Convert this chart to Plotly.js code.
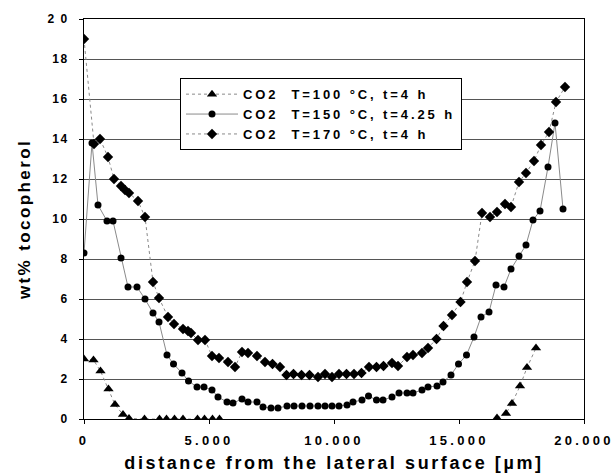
<!DOCTYPE html>
<html>
<head>
<meta charset="utf-8">
<script src="https://cdn.plot.ly/plotly-3.0.1.min.js"></script>
<style>
html,body{margin:0;padding:0;background:#fff;}
#chart{width:616px;height:473px;}
.xtitle{letter-spacing:2.6px;}
.ytitle{letter-spacing:2.4px;}
.legendtext{letter-spacing:2.9px;}
.xtick text{letter-spacing:3.3px;}
.ytick text{letter-spacing:1.5px;}
</style>
</head>
<body>
<div id="chart"></div>
<script>
// 100 °C, 4 h (triangles)
const x100 = [0,380,660,980,1240,1560,1800,2420,3020,3300,3620,3960,4540,4820,5140,5420,null,16520,16880,17120,17440,17720,18080];
const y100 = [3.0,2.95,2.4,1.5,0.72,0.22,0.03,0,0,0,0,0,0,0,0,0,null,0.05,0.28,0.78,1.65,2.57,3.55];

// 150 °C, 4.25 h (circles)
const x150 = [0,320,560,920,1160,1480,1760,2120,2440,2760,3000,3320,3580,3920,4180,4520,4800,5120,5360,5720,5960,6320,6560,6920,7160,7480,7760,8120,8400,8720,9040,9360,9640,9920,10200,10520,10760,11120,11380,11700,11960,12320,12600,12920,13160,13520,13760,14120,14360,14680,14980,15300,15600,15880,16200,16480,16800,17080,17400,17680,17960,18240,18560,18840,19160];
const y150 = [8.3,13.8,10.7,9.9,9.9,8.05,6.6,6.6,6.0,5.3,4.85,3.2,2.75,2.3,1.9,1.6,1.6,1.45,1.1,0.85,0.8,1.0,0.85,0.85,0.6,0.55,0.55,0.65,0.65,0.65,0.65,0.65,0.65,0.65,0.65,0.7,0.85,0.95,1.15,0.95,0.95,1.1,1.3,1.3,1.3,1.45,1.6,1.65,1.85,2.2,2.75,3.2,4.1,5.1,5.35,6.7,6.6,7.5,8.15,8.7,9.95,10.4,12.6,14.8,10.5];

// 170 °C, 4 h (diamonds)
const x170 = [0,400,640,960,1200,1480,1640,1800,2160,2440,2760,3000,3360,3600,3960,4160,4280,4560,4840,5120,5400,5760,6040,6320,6560,6920,7240,7540,7840,8100,8380,8700,9020,9360,9640,9920,10200,10500,10800,11100,11400,11700,11980,12320,12560,12920,13160,13520,13760,14100,14380,14720,15060,15320,15640,15920,16240,16520,16840,17080,17400,17680,18000,18280,18600,18880,19240];
const y170 = [19.0,13.75,14.0,13.1,12.0,11.65,11.45,11.3,10.9,10.1,6.85,6.05,5.1,4.75,4.5,4.4,4.3,3.95,3.95,3.15,3.05,2.85,2.6,3.35,3.3,3.15,2.85,2.75,2.6,2.2,2.25,2.2,2.2,2.1,2.25,2.1,2.25,2.25,2.25,2.3,2.6,2.6,2.65,2.8,2.65,3.1,3.2,3.3,3.55,4.0,4.65,5.2,5.85,6.85,7.9,10.3,10.1,10.35,10.75,10.6,11.85,12.3,12.9,13.7,14.35,15.85,16.6];

const names = ['CO2  T=100 °C, t=4 h','CO2  T=150 °C, t=4.25 h','CO2  T=170 °C, t=4 h'];
const xTickVals = [0,5000,10000,15000,20000];
const xTickText = ['0','5.000','10.000','15.000','20.000'];
const yTickVals = [0,2,4,6,8,10,12,14,16,18,20];
const yTickText = ['0','2','4','6','8','10','12','14','16','18','2 0'];

const lineStyle = {color:'#8a8a8a', width:1};
const traces = [
  {x:x100, y:y100, name:names[0], mode:'lines+markers', connectgaps:false,
   line:Object.assign({dash:'dot'}, lineStyle), marker:{symbol:'triangle-up', size:9, color:'#000'}},
  {x:x150, y:y150, name:names[1], mode:'lines+markers',
   line:Object.assign({}, lineStyle), marker:{symbol:'circle', size:7, color:'#000'}},
  {x:x170, y:y170, name:names[2], mode:'lines+markers',
   line:Object.assign({dash:'dot'}, lineStyle), marker:{symbol:'diamond', size:8, color:'#000'}}
];

const font = {family:'Liberation Sans, Arial, sans-serif', color:'#000'};
const layout = {
  width:616, height:473,
  margin:{l:84, r:32, t:19, b:54},
  paper_bgcolor:'#fff', plot_bgcolor:'#fff',
  showlegend:true,
  legend:{x:0.192, y:0.852, xanchor:'left', yanchor:'top',
    bordercolor:'#000', borderwidth:1, bgcolor:'#fff',
    font:Object.assign({size:13, weight:'bold'}, font),
    itemwidth:52, tracegroupgap:0},
  xaxis:{range:[0,20000], tickvals:xTickVals, ticktext:xTickText,
    showgrid:false, zeroline:false, showline:true, linecolor:'#000', linewidth:1, mirror:true,
    ticks:'outside', ticklen:4, tickcolor:'#000', ticklabelstandoff:5,
    tickfont:Object.assign({size:13, weight:'bold'}, font),
    title:{text:'distance from the lateral surface [µm]', standoff:12,
      font:Object.assign({size:18, weight:'bold'}, font)}},
  yaxis:{range:[0,20], tickvals:yTickVals, ticktext:yTickText,
    showgrid:true, gridcolor:'#555', gridwidth:1,
    zeroline:false, showline:true, linecolor:'#000', linewidth:1, mirror:true,
    ticks:'outside', ticklen:4, tickcolor:'#000', ticklabelstandoff:8,
    tickfont:Object.assign({size:12, weight:'bold'}, font),
    title:{text:'wt% tocopherol', standoff:12,
      font:Object.assign({size:17, weight:'bold'}, font)}}
};

Plotly.newPlot('chart', traces, layout, {staticPlot:true, displayModeBar:false});
</script>
</body>
</html>
